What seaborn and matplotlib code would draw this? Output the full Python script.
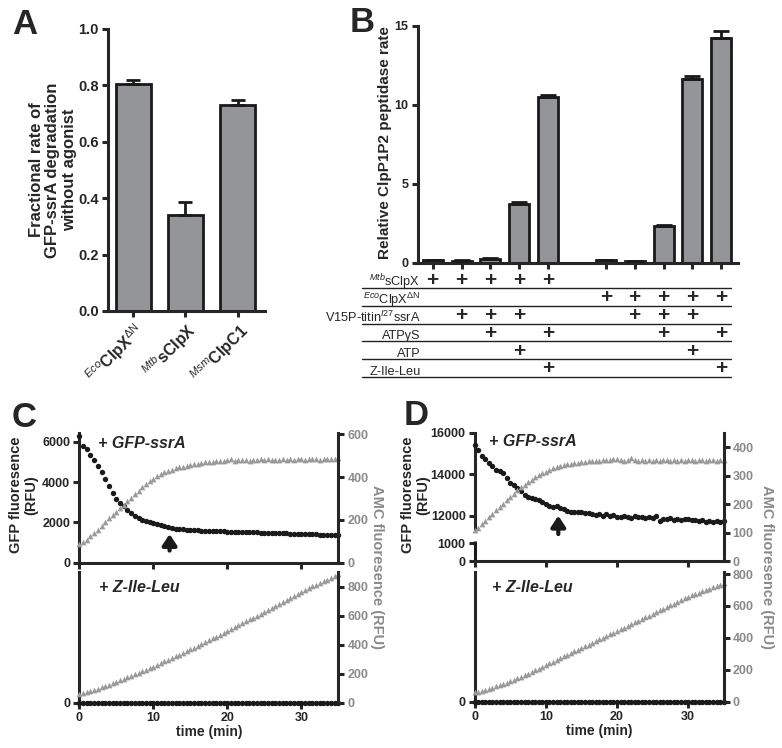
import numpy as np
import pandas as pd
import matplotlib
matplotlib.use("Agg")
import matplotlib.pyplot as plt
import seaborn as sns
from matplotlib.ticker import FixedLocator

# ---------------- data ----------------
A_LABELS = ["EcoClpXdN", "MtbsClpX", "MsmClpC1"]
A_TICKS = [r"$^{Eco}$ClpX$^{\mathrm{ΔN}}$", r"$^{Mtb}$sClpX", r"$^{Msm}$ClpC1"]
A_RATE = [0.805, 0.34, 0.73]
A_SEM = [0.015, 0.047, 0.02]

B_POS = [0, 1, 2, 3, 4, 6, 7, 8, 9, 10]
B_RATE = [0.15, 0.13, 0.22, 3.72, 10.47, 0.15, 0.10, 2.35, 11.66, 14.25]
B_SEM = [0.05, 0.04, 0.05, 0.10, 0.15, 0.04, 0.03, 0.05, 0.15, 0.45]
B_ROWS = [r"$^{Mtb}$sClpX", r"$^{Eco}$ClpX$^{\mathrm{ΔN}}$", r"V15P-titin$^{I27}$ssrA",
          "ATPγS", "ATP", "Z-Ile-Leu"]
B_PLUS = [[0, 1, 2, 3, 4], [6, 7, 8, 9, 10], [1, 2, 3, 7, 8, 9], [2, 4, 8, 10], [3, 9], [4, 10]]

TIME = [0, 0.5, 1, 1.5, 2, 2.5, 3, 3.5, 4, 4.5, 5, 5.5, 6, 6.5, 7, 7.5, 8, 8.5, 9, 9.5,
        10, 10.5, 11, 11.5, 12, 12.5, 13, 13.5, 14, 14.5, 15, 15.5, 16, 16.5, 17, 17.5,
        18, 18.5, 19, 19.5, 20, 20.5, 21, 21.5, 22, 22.5, 23, 23.5, 24, 24.5, 25, 25.5,
        26, 26.5, 27, 27.5, 28, 28.5, 29, 29.5, 30, 30.5, 31, 31.5, 32, 32.5, 33, 33.5,
        34, 34.5, 35]

C_GFP = [6300, 5800, 5620, 5360, 5090, 4800, 4500, 4160, 3820, 3470, 3140, 2950, 2790, 2620,
         2460, 2320, 2200, 2130, 2070, 2020, 1970, 1910, 1850, 1800, 1760, 1720, 1690, 1670,
         1650, 1635, 1620, 1610, 1600, 1590, 1580, 1570, 1565, 1560, 1555, 1550, 1545, 1540,
         1535, 1530, 1525, 1520, 1510, 1505, 1500, 1495, 1490, 1485, 1480, 1470, 1465, 1460,
         1450, 1445, 1440, 1430, 1420, 1415, 1410, 1405, 1400, 1395, 1390, 1385, 1380, 1375, 1370]
C_AMC = [85, 95, 108, 125, 140, 155, 172, 190, 207, 222, 238, 255, 270, 287, 303, 320, 337,
         352, 366, 380, 393, 405, 414, 422, 429, 435, 440, 445, 449, 453, 457, 460, 463, 466,
         468, 471, 472, 474, 475, 476, 478, 482, 476, 479, 478, 480, 477, 481, 479, 482, 478,
         483, 480, 481, 479, 484, 481, 482, 480, 485, 482, 481, 484, 482, 486, 481, 484, 483,
         486, 484, 487]
C_ZIL_AMC = [60, 66, 73, 81, 89, 97, 106, 115, 124, 134, 144, 154, 164, 174, 185, 195, 206,
             216, 227, 238, 249, 261, 272, 284, 296, 308, 320, 332, 344, 356, 368, 380, 393,
             405, 418, 430, 443, 455, 468, 481, 494, 507, 520, 534, 547, 560, 574, 587, 601,
             614, 628, 641, 655, 669, 682, 696, 710, 723, 737, 751, 765, 777, 789, 801, 813,
             825, 837, 849, 861, 873, 885]
C_ZIL_GFP = [0] * 71

D_GFP = [15400, 15180, 14900, 14720, 14560, 14400, 14200, 14150, 14050, 13800, 13600, 13480,
         13330, 13200, 13000, 12900, 12850, 12800, 12740, 12650, 12580, 12480, 12400, 12450,
         12360, 12300, 12240, 12200, 12170, 12160, 12180, 12130, 12150, 12080, 12050, 12100,
         12010, 12060, 11990, 12030, 11960, 11920, 12010, 11940, 11900, 11980, 11920, 11960,
         11880, 11950, 11900, 11980, 11760, 11860, 11820, 11870, 11800, 11850, 11780, 11840,
         11820, 11770, 11810, 11750, 11790, 11720, 11740, 11700, 11730, 11690, 11760]
D_AMC = [108, 118, 130, 142, 154, 166, 178, 190, 202, 214, 226, 237, 249, 259, 269, 278, 287,
         295, 302, 309, 315, 321, 326, 330, 334, 337, 340, 342, 344, 346, 348, 350, 351, 352,
         353, 354, 355, 356, 357, 359, 360, 357, 354, 356, 364, 357, 354, 357, 353, 356, 354,
         357, 353, 356, 355, 353, 357, 354, 356, 353, 355, 356, 354, 356, 355, 354, 357, 355,
         354, 356, 357]
D_ZIL_AMC = [58, 63, 69, 75, 82, 89, 96, 104, 112, 120, 129, 138, 147, 156, 166, 176, 186,
             197, 208, 219, 230, 241, 252, 262, 273, 284, 295, 305, 316, 327, 337, 348, 358,
             369, 380, 390, 401, 411, 422, 432, 443, 454, 465, 476, 487, 497, 508, 519, 530,
             540, 551, 562, 572, 583, 594, 604, 615, 626, 637, 647, 658, 666, 675, 683, 692,
             700, 709, 717, 725, 734, 742]
D_ZIL_GFP = [0] * 71

# ---------------- style ----------------
sns.set_theme(style="ticks")
plt.rcParams["font.family"] = ["Liberation Sans", "DejaVu Sans"]
plt.rcParams["font.weight"] = "bold"
plt.rcParams["mathtext.fontset"] = "custom"
plt.rcParams["mathtext.rm"] = "Liberation Sans:weight=normal"
plt.rcParams["mathtext.it"] = "Liberation Sans:style=italic:weight=normal"
plt.rcParams["mathtext.bf"] = "Liberation Sans:weight=bold"

BAR = "#939598"
TRI = "#9a9a9a"
GREY_TXT = "#8a8a8a"
LW = 2.2

W, H = 782, 748
fig = plt.figure(figsize=(W / 100, H / 100), dpi=100)


def px_rect(l, t, r, b):
    return [l / W, 1 - b / H, (r - l) / W, (b - t) / H]


def ftext(x, y, s, **kw):
    fig.text(x / W, 1 - y / H, s, **kw)


def base_style(ax, size=9):
    for s in ax.spines.values():
        s.set_linewidth(LW)
    ax.tick_params(width=LW, length=4.5, direction="out", labelsize=size, pad=2)


# ---------------- panel A ----------------
axA = fig.add_axes(px_rect(108, 29, 265, 311))
dfA = pd.DataFrame({"construct": A_LABELS, "rate": A_RATE})
sns.barplot(data=dfA, x="construct", y="rate", color=BAR, saturation=1, edgecolor="k",
            linewidth=2.0, width=0.67, errorbar=None, ax=axA)
axA.errorbar(np.arange(3), A_RATE, yerr=[np.zeros(3), A_SEM], fmt="none", ecolor="k",
             elinewidth=2, capsize=4.7, capthick=2, zorder=3)
sns.despine(ax=axA)
base_style(axA, 10.5)
axA.set_xlim(-0.48, 2.52)
axA.set_ylim(0, 1.0)
axA.set_yticks([0, 0.2, 0.4, 0.6, 0.8, 1.0])
axA.set_yticklabels(["0.0", "0.2", "0.4", "0.6", "0.8", "1.0"])
axA.set_xticks(range(3))
axA.set_xticklabels(A_TICKS, rotation=45, ha="right", rotation_mode="anchor",
                    fontsize=11.5, fontweight="bold")
axA.set_xlabel("")
axA.set_ylabel("")
ftext(53, 170, "Fractional rate of\nGFP-ssrA degradation\nwithout agonist", rotation=90,
      ha="center", va="center", fontsize=12, fontweight="bold", linespacing=1.15)
ftext(25, 25, "A", ha="center", va="center", fontsize=25, fontweight="bold")

# ---------------- panel B ----------------
axB = fig.add_axes(px_rect(417.7, 26, 738, 262.7))
dfB = pd.DataFrame({"pos": B_POS, "rate": B_RATE})
sns.barplot(data=dfB, x="pos", y="rate", native_scale=True, color=BAR, saturation=1,
            edgecolor="k", linewidth=2.0, width=0.69, errorbar=None, ax=axB)
axB.errorbar(B_POS, B_RATE, yerr=[np.zeros(len(B_POS)), B_SEM], fmt="none", ecolor="k",
             elinewidth=2, capsize=5.5, capthick=2, zorder=3)
sns.despine(ax=axB)
base_style(axB, 9)
axB.set_xlim(-0.52, 10.58)
axB.set_ylim(0, 15)
axB.set_yticks([0, 5, 10, 15])
axB.set_xticks(B_POS)
axB.set_xticklabels([])
axB.set_xlabel("")
axB.set_ylabel("")
ftext(385, 143, "Relative ClpP1P2 peptidase rate", rotation=90, ha="center", va="center",
      fontsize=11, fontweight="bold")
ftext(362.5, 22.5, "B", ha="center", va="center", fontsize=25, fontweight="bold")

# table under B
axT = fig.add_axes(px_rect(417.7, 270.4, 738, 376.7))
axT.set_xlim(-0.52, 10.58)
axT.set_ylim(6, 0)
axT.axis("off")
for i, (lab, plus) in enumerate(zip(B_ROWS, B_PLUS)):
    axT.plot([-2.45, 10.325], [i + 1, i + 1], color="#222222", lw=1.0, clip_on=False)
    axT.text(-0.42, i + 1 - 0.11, lab, ha="right", va="baseline", fontsize=9.2,
             fontweight="normal", clip_on=False)
    for j in plus:
        axT.text(j, i + 1 - 0.14, "+", ha="center", va="baseline", fontsize=15,
                 fontweight="bold", clip_on=False)


# ---------------- panels C / D ----------------
def kinetic_pair(left, right, top_t, top_b, bot_t, bot_b, gfp, amc, zil_gfp, zil_amc,
                 gfp_lim, amc_lim, zil_amc_lim, gfp_ticks, amc_ticks, gfp_labels,
                 arrow, funcscale=None):
    # top panel
    ax = fig.add_axes(px_rect(left, top_t, right, top_b))
    ax2 = ax.twinx()
    sns.scatterplot(x=TIME, y=gfp, ax=ax, color="k", marker="o", s=15, linewidth=0,
                    legend=False, clip_on=False, zorder=3)
    sns.scatterplot(x=TIME, y=amc, ax=ax2, color=TRI, marker="^", s=17, linewidth=0,
                    legend=False, clip_on=False)
    if funcscale is not None:
        ax.set_yscale("function", functions=funcscale)
    for a in (ax, ax2):
        base_style(a, 9)
        a.spines["top"].set_visible(False)
    ax.spines["right"].set_visible(False)
    ax2.spines["left"].set_visible(False)
    ax2.spines["bottom"].set_visible(False)
    ax.set_xlim(0, 35)
    ax.set_xticks([0, 10, 20, 30])
    ax.tick_params(axis="x", labelbottom=False)
    ax.set_ylim(*gfp_lim)
    ax.yaxis.set_major_locator(FixedLocator(gfp_ticks))
    ax.set_yticklabels(gfp_labels)
    ax2.set_ylim(*amc_lim)
    ax2.set_yticks(amc_ticks)
    ax2.tick_params(axis="y", labelcolor=GREY_TXT)
    ax.annotate("", xy=(arrow[0], arrow[2]), xytext=(arrow[0], arrow[1]),
                arrowprops=dict(arrowstyle="-|>,head_length=0.5,head_width=0.33",
                                mutation_scale=13, lw=3.0, color="k",
                                shrinkA=0, shrinkB=0))
    for a in (ax, ax2):
        a.set_xlabel("")
        a.set_ylabel("")
    # bottom panel
    bx = fig.add_axes(px_rect(left, bot_t, right, bot_b))
    bx2 = bx.twinx()
    sns.scatterplot(x=TIME, y=zil_gfp, ax=bx, color="k", marker="o", s=15, linewidth=0,
                    legend=False, clip_on=False, zorder=3)
    sns.scatterplot(x=TIME, y=zil_amc, ax=bx2, color=TRI, marker="^", s=17, linewidth=0,
                    legend=False, clip_on=False)
    for a in (bx, bx2):
        base_style(a, 9)
        a.spines["top"].set_visible(False)
    bx.spines["right"].set_visible(False)
    bx2.spines["left"].set_visible(False)
    bx2.spines["bottom"].set_visible(False)
    bx.set_xlim(0, 35)
    bx.set_xticks([0, 10, 20, 30])
    bx.set_ylim(0, 1000)
    bx.set_yticks([0])
    bx2.set_ylim(*zil_amc_lim)
    bx2.set_yticks([0, 200, 400, 600, 800])
    bx2.tick_params(axis="y", labelcolor=GREY_TXT)
    for a in (bx, bx2):
        a.set_xlabel("")
        a.set_ylabel("")
    bx.set_xlabel("time (min)", fontsize=10, fontweight="bold", labelpad=1)
    return ax, ax2, bx, bx2


# panel C
kinetic_pair(79.3, 338.3, 432.7, 562.7, 571.7, 702.7, C_GFP, C_AMC, C_ZIL_GFP, C_ZIL_AMC,
             (0, 6450), (0, 607), (0, 903), [0, 2000, 4000, 6000], [0, 200, 400, 600],
             ["0", "2000", "4000", "6000"], (12.2, 600, 1420))
ftext(24.5, 417.5, "C", ha="center", va="center", fontsize=25, fontweight="bold")
ftext(24, 495, "GFP fluoresence\n(RFU)", rotation=90, ha="center", va="center",
      fontsize=10.5, fontweight="bold", linespacing=1.1)
ftext(377, 567, "AMC fluoresence (RFU)", rotation=270, ha="center", va="center",
      fontsize=10.5, fontweight="bold", color=GREY_TXT)
ftext(98, 443, "+ GFP-ssrA", ha="left", va="center", fontsize=11.5, fontweight="bold",
      fontstyle="italic")
ftext(99, 587, "+ Z-Ile-Leu", ha="left", va="center", fontsize=11.5, fontweight="bold",
      fontstyle="italic")


# panel D (broken GFP axis)
def d_fwd(y):
    y = np.asarray(y, dtype=float)
    return np.where(y <= 1000, y * 0.0177,
                    np.where(y <= 11250, 17.7 + (y - 1000) * (12.0 / 10250.0),
                             29.7 + (y - 11250) * 0.02075))


def d_inv(p):
    p = np.asarray(p, dtype=float)
    return np.where(p <= 17.7, p / 0.0177,
                    np.where(p <= 29.7, 1000 + (p - 17.7) * (10250.0 / 12.0),
                             11250 + (p - 29.7) / 0.02075))


axD, axD2, bxD, bxD2 = kinetic_pair(
    474.7, 723.7, 432.7, 561, 571.7, 701.7, D_GFP, D_AMC, D_ZIL_GFP, D_ZIL_AMC,
    (0, 16000), (0, 452), (0, 815), [0, 1000, 12000, 14000, 16000], [0, 100, 200, 300, 400],
    ["0", "1000", "12000", "14000", "16000"], (11.75, 8900, 12000),
    funcscale=(d_fwd, d_inv))
axD.spines["left"].set_bounds(11100, 16000)
axD.plot([0, 0], [0, 3000], transform=axD.get_yaxis_transform(), color="k", lw=LW,
         solid_capstyle="butt", clip_on=False)
axD.yaxis.set_minor_locator(FixedLocator([1000]))
axD.tick_params(axis="y", which="minor", direction="in", length=4.5, width=LW)
ftext(416.5, 415.5, "D", ha="center", va="center", fontsize=25, fontweight="bold")
ftext(416, 495, "GFP fluoresence\n(RFU)", rotation=90, ha="center", va="center",
      fontsize=10.5, fontweight="bold", linespacing=1.1)
ftext(767, 567, "AMC fluoresence (RFU)", rotation=270, ha="center", va="center",
      fontsize=10.5, fontweight="bold", color=GREY_TXT)
ftext(488.7, 442, "+ GFP-ssrA", ha="left", va="center", fontsize=11.5, fontweight="bold",
      fontstyle="italic")
ftext(492, 588, "+ Z-Ile-Leu", ha="left", va="center", fontsize=11.5, fontweight="bold",
      fontstyle="italic")

fig.savefig("out.png", dpi=100)
